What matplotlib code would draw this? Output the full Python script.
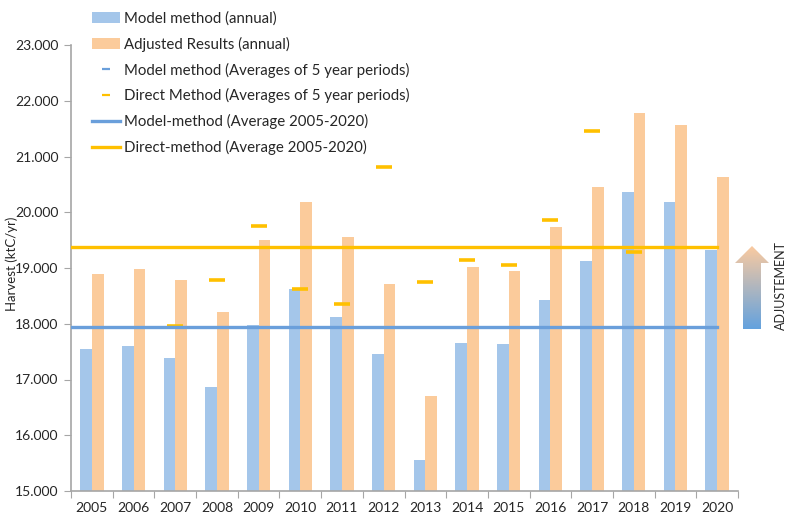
import numpy as np
import matplotlib
matplotlib.use('Agg')
import matplotlib.pyplot as plt
from matplotlib.lines import Line2D
from matplotlib.patches import Polygon

plt.rcParams['font.family'] = ['Lato', 'DejaVu Sans']

years = [str(y) for y in range(2005, 2021)]
model_annual = [17.54, 17.60, 17.39, 16.87, 17.97, 18.63, 18.12, 17.45,
                15.55, 17.66, 17.64, 18.42, 19.12, 20.36, 20.18, 19.32]
adjusted_annual = [18.89, 18.99, 18.78, 18.21, 19.51, 20.18, 19.55, 18.72,
                   16.71, 19.01, 18.94, 19.73, 20.45, 21.78, 21.57, 20.63]
model_5yr = [np.nan] * 16
direct_5yr = [np.nan, np.nan, 17.96, 18.78, 19.76, 18.62, 18.35, 20.82,
              18.74, 19.15, 19.06, 19.86, 21.45, 19.28, np.nan, np.nan]
model_avg = 17.94
direct_avg = 19.37
yticks = [15, 16, 17, 18, 19, 20, 21, 22, 23]

c_blue_bar = '#a4c6ea'
c_orange_bar = '#fbcb9b'
c_blue_line = '#6a9fdb'
c_yellow = '#ffc000'
c_axis = '#a6a6a6'
c_text = '#262626'

fig = plt.figure(figsize=(8, 5.28), dpi=100)
ax = fig.add_axes([71 / 800, 1 - 491 / 528, (738 - 71) / 800, (491 - 45) / 528])

x = np.arange(len(years))
w = 0.28
b1 = ax.bar(x - w / 2, np.array(model_annual) - 15, w, bottom=15, color=c_blue_bar, zorder=2)
b2 = ax.bar(x + w / 2, np.array(adjusted_annual) - 15, w, bottom=15, color=c_orange_bar, zorder=2)
ax.plot(x, model_5yr, ls='none', marker='_', ms=11, mew=2.6, color=c_blue_line, zorder=3)
ax.plot(x, direct_5yr, ls='none', marker='_', ms=11, mew=2.6, color=c_yellow, zorder=3)
ax.plot([-0.5, x[-1]], [model_avg, model_avg], color=c_blue_line, lw=2.4, zorder=4)
ax.plot([-0.5, x[-1]], [direct_avg, direct_avg], color=c_yellow, lw=2.4, zorder=4)

ax.set_xlim(-0.5, len(years) - 0.5)
ax.set_ylim(15, 23)
ax.set_yticks(yticks)
ax.set_yticklabels([f'{v:.3f}' for v in yticks], fontsize=10, color=c_text)
ax.set_xticks(np.arange(-0.5, len(years)), minor=False)
ax.set_xticklabels([])
ax.set_xticks(x, minor=True)
ax.set_xticklabels(years, minor=True, fontsize=10, color=c_text)
ax.tick_params(axis='x', which='major', length=5, color=c_axis, direction='out')
ax.tick_params(axis='x', which='minor', length=0, pad=8)
ax.tick_params(axis='y', length=5, color=c_axis, direction='out', pad=4)
for s in ['top', 'right']:
    ax.spines[s].set_visible(False)
for s in ['left', 'bottom']:
    ax.spines[s].set_color(c_axis)
    ax.spines[s].set_linewidth(1.2)
ax.set_ylabel('Harvest (ktC/yr)', fontsize=9.5, color=c_text)
ax.yaxis.set_label_coords(-0.079, 0.51)

handles = [
    b1, b2,
    Line2D([], [], ls='none', marker='_', ms=6, mew=1.6, color=c_blue_line),
    Line2D([], [], ls='none', marker='_', ms=6, mew=1.6, color=c_yellow),
    Line2D([], [], color=c_blue_line, lw=2.4),
    Line2D([], [], color=c_yellow, lw=2.4),
]
labels = ['Model method (annual)', 'Adjusted Results (annual)',
          'Model method (Averages of 5 year periods)',
          'Direct Method (Averages of 5 year periods)',
          'Model-method (Average 2005-2020)',
          'Direct-method (Average 2005-2020)']
fig.legend(handles, labels, loc='upper left', bbox_to_anchor=(78 / 800, 1 + 2 / 528),
           frameon=False, fontsize=10.8, handlelength=1.9, handletextpad=0.25,
           labelspacing=0.72, numpoints=1, labelcolor=c_text)

# gradient arrow "ADJUSTEMENT"
aax = fig.add_axes([733 / 800, 1 - 331 / 528, 38 / 800, 86 / 528])
aax.set_xlim(733, 771)
aax.set_ylim(331, 245)
aax.axis('off')
top = np.array([250, 202, 160]) / 255
bot = np.array([100, 162, 222]) / 255
t = np.linspace(0, 1, 100)[:, None]
grad = (top[None, :] * (1 - t) + bot[None, :] * t)[:, None, :]
im = aax.imshow(grad, extent=[733, 771, 329, 246], aspect='auto', zorder=1)
arrow = Polygon([[743, 329], [761, 329], [761, 263], [769, 263], [752, 246],
                 [735, 263], [743, 263]], closed=True, transform=aax.transData,
                facecolor='none', edgecolor='none')
aax.add_patch(arrow)
im.set_clip_path(arrow)
fig.text(781 / 800, 1 - 286 / 528, 'ADJUSTEMENT', rotation=90, ha='center', va='center',
         fontsize=9, color=c_text)

fig.savefig('out.png', dpi=100)
